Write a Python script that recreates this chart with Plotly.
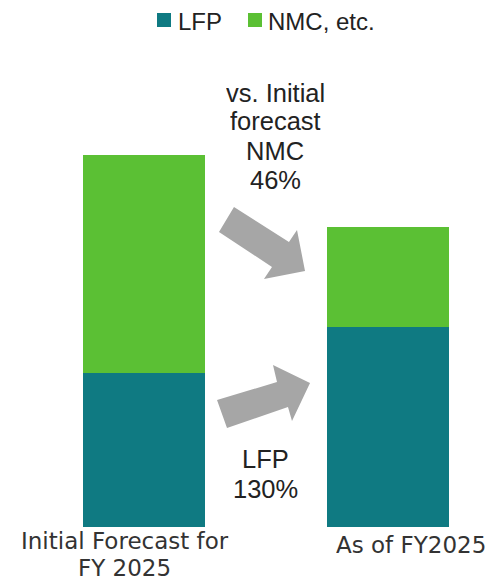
import plotly.graph_objects as go

# ---- data ----
categories = ["Initial Forecast for FY 2025", "As of FY2025"]
lfp_values = [41.4, 53.8]
nmc_values = [58.6, 26.9]
series_names = ["LFP", "NMC, etc."]
colors = ["#0f7a82", "#5bc034"]

W, H = 495, 580
M_T, M_B = 40, 53
PLOT_H = H - M_T - M_B
BOTTOM = H - M_B


def px(x, y):
    return x / W, (BOTTOM - y) / PLOT_H


def path(points):
    s = ""
    for i, (x, y) in enumerate(points):
        a, b = px(x, y)
        s += ("M" if i == 0 else "L") + f"{a:.4f},{b:.4f} "
    return s + "Z"


fig = go.Figure()
fig.add_trace(go.Bar(x=[0, 1], y=lfp_values, name=series_names[0],
                     marker=dict(color=colors[0], line=dict(width=0)), width=0.5,
                     hovertext=categories, showlegend=False))
fig.add_trace(go.Bar(x=[0, 1], y=nmc_values, name=series_names[1],
                     marker=dict(color=colors[1], line=dict(width=0)), width=0.5,
                     hovertext=categories, showlegend=False))

arrow_down = [(234, 207), (289, 242), (297, 230), (305, 271), (264, 279), (272, 267), (219, 232)]
arrow_up = [(227, 428), (217, 400), (277, 382), (273, 365), (310, 383), (292, 421), (288, 407)]
shapes = [dict(type="path", xref="paper", yref="paper", path=path(p),
               fillcolor="#a6a6a6", line=dict(width=0), layer="above")
          for p in (arrow_down, arrow_up)]

ann = []
txt_font = dict(family="Liberation Sans", size=25.5, color="#222222")
for t, xc, yc in [("vs. Initial", 275, 92), ("forecast", 275, 121), ("NMC", 275, 150),
                  ("46%", 275, 179.5), ("LFP", 265.5, 458.5), ("130%", 265.5, 488.5)]:
    a, b = px(xc, yc)
    ann.append(dict(text=t, x=a, y=b, xref="paper", yref="paper", showarrow=False,
                    xanchor="center", yanchor="middle", height=25, font=txt_font))
cat_font = dict(family="DejaVu Sans", size=23, color="#333333")
for t, xc, yc in [("Initial Forecast for", 125, 540.5), ("FY 2025", 124, 567.5),
                  ("As of FY2025", 411, 544.5)]:
    a, b = px(xc, yc)
    ann.append(dict(text=t, x=a, y=b, xref="paper", yref="paper", showarrow=False,
                    xanchor="center", yanchor="middle", height=23, font=cat_font))

# legend (drawn manually to match spacing)
leg_font = dict(family="Liberation Sans", size=24, color="#222222")
for name, col, sq_x, tx in [(series_names[0], colors[0], 157, 176),
                            (series_names[1], colors[1], 248, 266)]:
    x0, y0 = px(sq_x, 27)
    x1, y1 = px(sq_x + 14, 13)
    shapes.append(dict(type="rect", xref="paper", yref="paper", x0=x0, y0=y0, x1=x1, y1=y1,
                       fillcolor=col, line=dict(width=0)))
    a, b = px(tx, 21)
    ann.append(dict(text=name, x=a, y=b, xref="paper", yref="paper", showarrow=False,
                    xanchor="left", yanchor="middle", font=leg_font))

fig.update_layout(
    width=W, height=H,
    barmode="stack",
    margin=dict(l=0, r=0, t=M_T, b=M_B),
    paper_bgcolor="white", plot_bgcolor="white",
    showlegend=False,
    xaxis=dict(range=[-0.590, 1.4385], showticklabels=False, showgrid=False,
               zeroline=False, showline=False, fixedrange=True),
    yaxis=dict(range=[0, 130.9], showticklabels=False, showgrid=False,
               zeroline=False, showline=False, fixedrange=True),
    shapes=shapes,
    annotations=ann,
)

fig.write_html("out.html")
